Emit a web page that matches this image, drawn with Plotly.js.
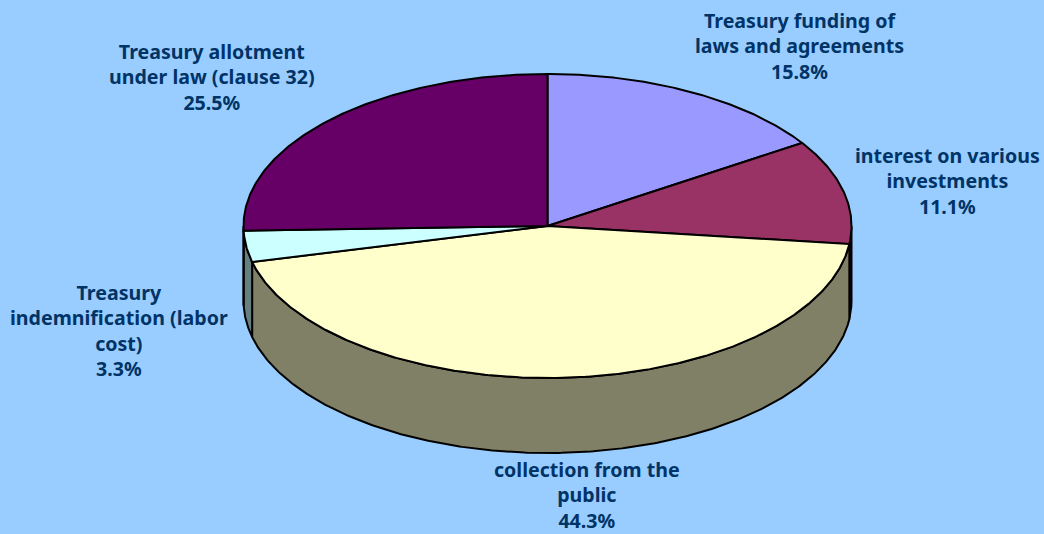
<!DOCTYPE html>
<html>
<head>
<meta charset="utf-8">
<script src="https://cdn.plot.ly/plotly-3.0.1.min.js"></script>
<style>html,body{margin:0;padding:0;background:#99CCFF;overflow:hidden}</style>
</head>
<body>
<div id="chart" style="width:1044px;height:534px"></div>
<script>
// Revenue shares, clockwise from twelve o'clock
const sliceNames = ['funding', 'interest', 'collection', 'indemnification', 'allotment'];
const sliceValues = [15.8, 11.1, 44.3, 3.3, 25.5];
const sliceLabels = [
  ['Treasury funding of', 'laws and agreements'],
  ['interest on various', 'investments'],
  ['collection from the', 'public'],
  ['Treasury', 'indemnification (labor', 'cost)'],
  ['Treasury allotment', 'under law (clause 32)']
];
const topColors = ['#9999FF', '#993366', '#FFFFCC', '#CCFFFF', '#660066'];
const wallColors = ['#4C4C80', '#4C1933', '#808066', '#668080', '#330033'];
const labelX = [799, 947, 587, 119, 212];
const labelY = [45.5, 180.5, 495, 330, 76.5];

// Disc geometry in pixel-sized axis units
const cx = 547.5, cy = 226, rx = 304, ry = 152, depth = 75;
const INK = '#000000', TEXT = '#003366', BG = '#99CCFF';

const rad = d => d * Math.PI / 180;
const px = a => cx + rx * Math.sin(rad(a));
const py = (a, drop) => cy - ry * Math.cos(rad(a)) + (drop || 0);

function arc(a0, a1, drop) {
  const n = Math.max(2, Math.ceil((a1 - a0) / 0.5));
  const xs = [], ys = [];
  for (let i = 0; i <= n; i++) {
    const a = a0 + (a1 - a0) * i / n;
    xs.push(px(a)); ys.push(py(a, drop));
  }
  return [xs, ys];
}

function polygon(xs, ys, fill, name) {
  return {
    type: 'scatter', mode: 'lines', x: xs, y: ys, name: name,
    fill: 'toself', fillcolor: fill,
    line: {color: INK, width: 2, shape: 'linear'},
    hoverinfo: 'name', showlegend: false
  };
}

const total = sliceValues.reduce((s, v) => s + v, 0);
const walls = [], tops = [];
let start = 0;
sliceValues.forEach((v, i) => {
  const end = start + v / total * 360;
  // Only the part of the rim facing the viewer (90 to 270 degrees) gets a wall
  const w0 = Math.max(start, 90), w1 = Math.min(end, 270);
  if (w1 > w0) {
    const [ux, uy] = arc(w0, w1, 0);
    const [lx, ly] = arc(w0, w1, depth);
    walls.push(polygon(ux.concat(lx.reverse(), ux[0]), uy.concat(ly.reverse(), uy[0]),
      wallColors[i], sliceNames[i] + ' wall'));
  }
  const [tx, ty] = arc(start, end, 0);
  tops.push(polygon([cx].concat(tx, cx), [cy].concat(ty, cy), topColors[i], sliceNames[i]));
  start = end;
});

const annotations = sliceLabels.map((lines, i) => ({
  x: labelX[i], y: labelY[i], xref: 'x', yref: 'y',
  xanchor: 'center', yanchor: 'middle', showarrow: false, align: 'center',
  text: lines.concat(sliceValues[i].toFixed(1) + '%').map(t => '<b>' + t + '</b>').join('<br>'),
  font: {family: '"Noto Sans", sans-serif', size: 19.6, color: TEXT}
}));

Plotly.newPlot('chart', walls.concat(tops), {
  width: 1044, height: 534,
  margin: {l: 0, r: 0, t: 0, b: 0},
  paper_bgcolor: BG, plot_bgcolor: BG,
  xaxis: {range: [0, 1044], visible: false, fixedrange: true},
  yaxis: {range: [534, 0], visible: false, fixedrange: true},
  annotations: annotations,
  showlegend: false
}, {displayModeBar: false, staticPlot: true});
</script>
</body>
</html>
